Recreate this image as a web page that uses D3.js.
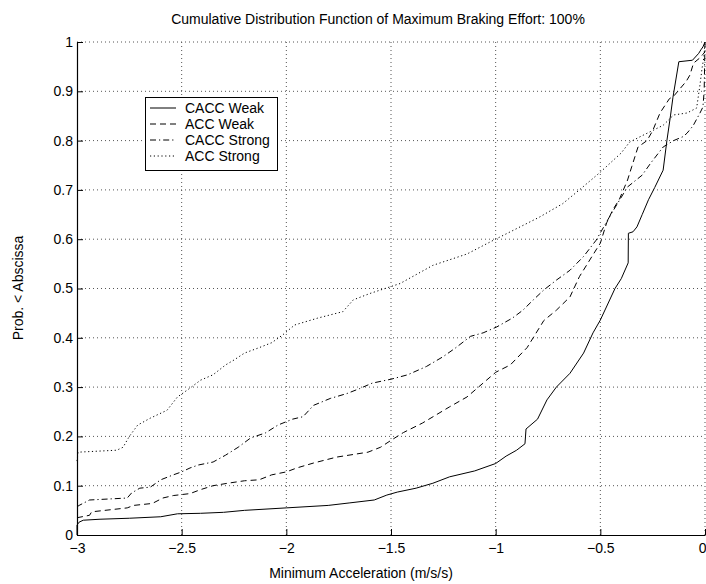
<!DOCTYPE html>
<html>
<head>
<meta charset="utf-8">
<script src="https://cdn.jsdelivr.net/npm/d3@7"></script>
<style>
  html, body { margin: 0; padding: 0; background: #fff; }
  svg { display: block; }
  text { font-family: "Liberation Sans", Arial, Helvetica, sans-serif; fill: #000; }
</style>
</head>
<body>
<svg id="chart" width="706" height="584"></svg>
<script>
// ---------- data ----------
const title = "Cumulative Distribution Function of Maximum Braking Effort: 100%";
const xLabel = "Minimum Acceleration (m/s/s)";
const yLabel = "Prob. < Abscissa";
const xTicks = [-3, -2.5, -2, -1.5, -1, -0.5, 0];
const yTicks = [0, 0.1, 0.2, 0.3, 0.4, 0.5, 0.6, 0.7, 0.8, 0.9, 1];
const seriesNames = ["CACC Weak", "ACC Weak", "CACC Strong", "ACC Strong"];

const caccWeakX = [-3, -3, -2.99, -2.97, -2.89, -2.75, -2.6, -2.52, -2.41, -2.3, -2.2, -2.0, -1.8, -1.7, -1.58, -1.52, -1.47, -1.38, -1.3, -1.22, -1.1, -1.0, -0.95, -0.9, -0.86, -0.855, -0.8, -0.755, -0.71, -0.645, -0.58, -0.535, -0.5, -0.43, -0.4, -0.367, -0.366, -0.344, -0.325, -0.3, -0.27, -0.24, -0.2, -0.182, -0.165, -0.153, -0.125, -0.06, -0.03, -0.02, -0.01, 0];
const caccWeakY = [0, 0.02, 0.026, 0.03, 0.032, 0.034, 0.037, 0.043, 0.044, 0.046, 0.05, 0.055, 0.06, 0.065, 0.071, 0.081, 0.087, 0.095, 0.105, 0.118, 0.13, 0.145, 0.16, 0.172, 0.185, 0.215, 0.235, 0.274, 0.3, 0.328, 0.369, 0.41, 0.436, 0.5, 0.52, 0.552, 0.612, 0.615, 0.625, 0.65, 0.68, 0.705, 0.74, 0.8, 0.85, 0.888, 0.96, 0.963, 0.977, 0.984, 0.99, 1.0];

const accWeakX = [-3, -2.94, -2.93, -2.76, -2.73, -2.64, -2.59, -2.54, -2.46, -2.41, -2.35, -2.28, -2.2, -2.13, -2.07, -2.0, -1.95, -1.87, -1.76, -1.61, -1.55, -1.5, -1.44, -1.35, -1.22, -1.137, -1.0, -0.93, -0.85, -0.77, -0.71, -0.645, -0.6, -0.54, -0.5, -0.47, -0.44, -0.41, -0.37, -0.35, -0.32, -0.277, -0.25, -0.215, -0.17, -0.15, -0.12, -0.09, -0.072, -0.055, -0.024, -0.01, 0];
const accWeakY = [0.035, 0.04, 0.047, 0.055, 0.06, 0.064, 0.075, 0.08, 0.084, 0.092, 0.1, 0.105, 0.11, 0.112, 0.122, 0.128, 0.136, 0.146, 0.158, 0.168, 0.178, 0.192, 0.208, 0.227, 0.26, 0.28, 0.33, 0.345, 0.38, 0.435, 0.456, 0.483, 0.524, 0.565, 0.592, 0.633, 0.66, 0.68, 0.72, 0.747, 0.787, 0.8, 0.82, 0.856, 0.885, 0.89, 0.905, 0.92, 0.933, 0.957, 0.968, 0.975, 0.98];

const caccStrongX = [-3, -2.99, -2.94, -2.76, -2.74, -2.7, -2.65, -2.6, -2.54, -2.5, -2.46, -2.42, -2.35, -2.29, -2.23, -2.17, -2.1, -2.04, -1.97, -1.92, -1.87, -1.79, -1.71, -1.65, -1.59, -1.5, -1.42, -1.33, -1.25, -1.19, -1.12, -1.06, -0.995, -0.92, -0.87, -0.82, -0.77, -0.71, -0.645, -0.58, -0.52, -0.45, -0.37, -0.3, -0.26, -0.2, -0.15, -0.105, -0.086, -0.057, -0.024, -0.01, -0.004, 0];
const caccStrongY = [0.057, 0.06, 0.071, 0.075, 0.085, 0.095, 0.097, 0.112, 0.122, 0.128, 0.136, 0.142, 0.148, 0.162, 0.178, 0.197, 0.207, 0.223, 0.235, 0.24, 0.263, 0.277, 0.287, 0.297, 0.308, 0.316, 0.325, 0.342, 0.362, 0.38, 0.403, 0.41, 0.422, 0.44, 0.456, 0.477, 0.497, 0.517, 0.537, 0.565, 0.598, 0.65, 0.706, 0.73, 0.754, 0.787, 0.8, 0.808, 0.815, 0.83, 0.856, 0.868, 0.9, 1.0];

const accStrongX = [-3, -2.995, -2.81, -2.78, -2.75, -2.71, -2.65, -2.57, -2.52, -2.46, -2.41, -2.35, -2.29, -2.25, -2.2, -2.13, -2.07, -2.02, -1.96, -1.85, -1.73, -1.68, -1.6, -1.457, -1.3, -1.137, -1.01, -0.93, -0.79, -0.68, -0.6, -0.5, -0.4, -0.36, -0.3, -0.2, -0.15, -0.086, -0.04, -0.024, -0.014, -0.005, 0];
const accStrongY = [0.15, 0.168, 0.172, 0.178, 0.2, 0.223, 0.237, 0.253, 0.28, 0.298, 0.314, 0.325, 0.345, 0.355, 0.369, 0.38, 0.39, 0.405, 0.426, 0.44, 0.453, 0.477, 0.49, 0.51, 0.547, 0.57, 0.598, 0.615, 0.645, 0.672, 0.7, 0.736, 0.775, 0.797, 0.81, 0.831, 0.852, 0.856, 0.866, 0.913, 0.947, 0.97, 1.0];

const seriesX = [caccWeakX, accWeakX, caccStrongX, accStrongX];
const seriesY = [caccWeakY, accWeakY, caccStrongY, accStrongY];
const seriesDash = [null, "6,4", "6,3,1.2,3", "1.2,2.6"];

// ---------- layout ----------
const svg = d3.select("#chart");
const mLeft = 77, mRight = 705, mTop = 42, mBottom = 535;
const x = d3.scaleLinear().domain([-3, 0]).range([mLeft, mRight]);
const y = d3.scaleLinear().domain([0, 1]).range([mBottom, mTop]);

// grid
const grid = svg.append("g");
grid.selectAll("line.vx").data(xTicks.slice(1)).join("line")
  .attr("x1", d => x(d)).attr("x2", d => x(d))
  .attr("y1", mTop).attr("y2", mBottom)
  .attr("stroke", "#555").attr("stroke-width", 1).attr("stroke-dasharray", "1,3");
grid.selectAll("line.hy").data(yTicks.slice(1)).join("line")
  .attr("x1", mLeft).attr("x2", mRight)
  .attr("y1", d => y(d)).attr("y2", d => y(d))
  .attr("stroke", "#555").attr("stroke-width", 1).attr("stroke-dasharray", "1,3");

// series
const lineGen = d3.line().x(d => x(d[0])).y(d => y(d[1]));
seriesX.forEach((xs, i) => {
  const pts = xs.map((v, j) => [v, seriesY[i][j]]);
  const p = svg.append("path").datum(pts)
    .attr("d", lineGen).attr("fill", "none")
    .attr("stroke", "#000").attr("stroke-width", 1);
  if (seriesDash[i]) p.attr("stroke-dasharray", seriesDash[i]);
});

// axes
const fmt = d => d === 0 ? "0" : d3.format("")(d).replace("-", "\u2212");
const xAxis = d3.axisBottom(x).tickValues(xTicks).tickSizeInner(-6).tickSizeOuter(0).tickPadding(8).tickFormat(fmt);
const yAxis = d3.axisLeft(y).tickValues(yTicks).tickSizeInner(-6).tickSizeOuter(0).tickPadding(4).tickFormat(fmt);
const gx = svg.append("g").attr("transform", `translate(0,${mBottom})`).call(xAxis);
const gy = svg.append("g").attr("transform", `translate(${mLeft},0)`).call(yAxis);
[gx, gy].forEach(g => {
  g.select(".domain").attr("stroke", "#000").attr("stroke-width", 1.2);
  g.selectAll(".tick line").attr("stroke", "#000");
  g.selectAll(".tick text").attr("font-size", 14).attr("font-family", "Liberation Sans, Arial, sans-serif").attr("fill", "#000");
});
// keep the last x tick label inside the window
gx.selectAll(".tick text").filter(d => d === 0).attr("text-anchor", "end").attr("dx", 1);

// labels
svg.append("text").attr("x", 378).attr("y", 24).attr("text-anchor", "middle")
  .attr("font-size", 14).text(title);
svg.append("text").attr("x", 361).attr("y", 578).attr("text-anchor", "middle")
  .attr("font-size", 14).text(xLabel);
svg.append("text").attr("transform", "translate(23,288) rotate(-90)").attr("text-anchor", "middle")
  .attr("font-size", 14).text(yLabel);

// legend
const lg = svg.append("g");
lg.append("rect").attr("x", 145.5).attr("y", 97.5).attr("width", 132).attr("height", 73)
  .attr("fill", "#fff").attr("stroke", "#000").attr("stroke-width", 1);
seriesNames.forEach((name, i) => {
  const yy = 108 + i * 16;
  const l = lg.append("line").attr("x1", 150).attr("x2", 176).attr("y1", yy).attr("y2", yy)
    .attr("stroke", "#000").attr("stroke-width", 1);
  if (seriesDash[i]) l.attr("stroke-dasharray", seriesDash[i]);
  lg.append("text").attr("x", 185).attr("y", yy).attr("dy", "0.36em")
    .attr("font-size", 14).text(name);
});
</script>
</body>
</html>
